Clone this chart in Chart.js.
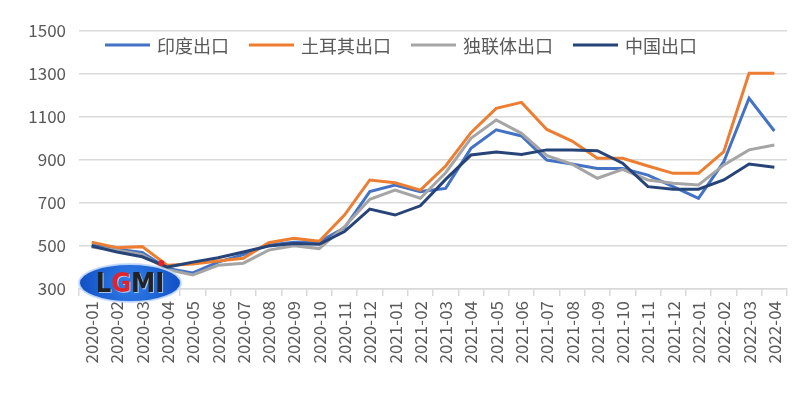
<!DOCTYPE html>
<html>
<head>
<meta charset="utf-8">
<script src="https://cdn.jsdelivr.net/npm/chart.js@4/dist/chart.umd.min.js"></script>
<style>
	html, body { margin: 0; padding: 0; background: #fff; }
	#wrap { width: 802px; height: 397px; }
</style>
</head>
<body>
<div id="wrap"><canvas id="exportChart" width="802" height="397"></canvas></div>
<script>
var months = ['2020-01', '2020-02', '2020-03', '2020-04', '2020-05', '2020-06', '2020-07', '2020-08', '2020-09', '2020-10', '2020-11', '2020-12',
	'2021-01', '2021-02', '2021-03', '2021-04', '2021-05', '2021-06', '2021-07', '2021-08', '2021-09', '2021-10', '2021-11', '2021-12',
	'2022-01', '2022-02', '2022-03', '2022-04'];
var india = [505, 485, 470, 395, 375, 425, 460, 505, 518, 520, 584, 753, 784, 753, 768, 954, 1040, 1012, 900, 881, 861, 861, 830, 776, 722, 892, 1187, 1035];
var turkey = [518, 492, 497, 410, 416, 430, 443, 515, 536, 522, 644, 807, 794, 760, 872, 1027, 1140, 1168, 1042, 988, 908, 908, 872, 838, 838, 939, 1303, 1303];
var cis = [495, 480, 460, 390, 365, 410, 420, 481, 501, 488, 590, 717, 760, 722, 841, 1001, 1086, 1024, 920, 881, 815, 857, 807, 792, 784, 877, 947, 970];
var china = [500, 472, 450, 402, 425, 445, 472, 500, 512, 508, 567, 672, 644, 687, 810, 923, 937, 926, 947, 947, 943, 885, 776, 764, 764, 807, 881, 866];
var seriesNames = ['印度出口', '土耳其出口', '独联体出口', '中国出口'];
var seriesColors = ['#4472C4', '#ED7D31', '#A5A5A5', '#264478'];
var yMin = 300, yMax = 1500, yStep = 200;

var textColor = '#595959';
var gridColor = '#d9d9d9';
var fontFamily = '"Noto Sans CJK SC", "Noto Sans", sans-serif';

// legend sits inside the plot, like Excel does it
var insideLegend = {
	id: 'insideLegend',
	afterDraw: function (chart) {
		var ctx = chart.ctx;
		var sets = chart.data.datasets;
		var boxW = 45, gap = 7, space = 20;
		ctx.save();
		ctx.font = '18px ' + fontFamily;
		var total = 0;
		sets.forEach(function (ds, i) {
			total += boxW + gap + ctx.measureText(ds.label).width + (i ? space : 0);
		});
		var x = (chart.width - total) / 2;
		var y = chart.chartArea.top + 14;
		ctx.textBaseline = 'middle';
		sets.forEach(function (ds) {
			ctx.strokeStyle = ds.borderColor;
			ctx.lineWidth = 3;
			ctx.beginPath();
			ctx.moveTo(x, y);
			ctx.lineTo(x + boxW, y);
			ctx.stroke();
			ctx.fillStyle = textColor;
			ctx.fillText(ds.label, x + boxW + gap, y + 1);
			x += boxW + gap + ctx.measureText(ds.label).width + space;
		});
		ctx.restore();
	}
};

// LGMI watermark in the lower left corner
var logo = {
	id: 'logo',
	afterDatasetsDraw: function (chart) {
		var ctx = chart.ctx;
		var cx = chart.chartArea.left + 51, cy = chart.chartArea.bottom - 6;
		ctx.save();
		ctx.beginPath();
		ctx.ellipse(cx, cy, 51, 19, 0, 0, Math.PI * 2);
		var g = ctx.createRadialGradient(cx, cy, 4, cx, cy, 52);
		g.addColorStop(0, '#2f7be6');
		g.addColorStop(1, '#0f4fc4');
		ctx.fillStyle = g;
		ctx.fill();
		ctx.lineWidth = 2;
		ctx.strokeStyle = 'rgba(200,220,255,0.9)';
		ctx.stroke();
		ctx.font = 'bold 27px "DejaVu Sans Condensed", "DejaVu Sans", sans-serif';
		ctx.textBaseline = 'middle';
		var parts = [['L', '#222'], ['G', '#e0242a'], ['M', '#222'], ['I', '#222']];
		var w = 0;
		parts.forEach(function (p) { w += ctx.measureText(p[0]).width; });
		var x = cx - w / 2;
		parts.forEach(function (p) {
			ctx.fillStyle = 'rgba(255,255,255,0.6)';
			ctx.fillText(p[0], x + 1, cy + 3);
			ctx.fillStyle = p[1];
			ctx.fillText(p[0], x, cy + 2);
			x += ctx.measureText(p[0]).width;
		});
		ctx.fillStyle = '#e0242a';
		ctx.beginPath();
		ctx.arc(x - 3, cy - 20, 3, 0, Math.PI * 2);
		ctx.fill();
		ctx.restore();
	}
};

function makeSet(i, values) {
	return {
		label: seriesNames[i],
		data: values,
		borderColor: seriesColors[i],
		backgroundColor: seriesColors[i],
		borderWidth: 3,
		pointRadius: 0,
		tension: 0,
		fill: false,
		order: 3 - i
	};
}

new Chart(document.getElementById('exportChart'), {
	type: 'line',
	data: {
		labels: months,
		datasets: [makeSet(0, india), makeSet(1, turkey), makeSet(2, cis), makeSet(3, china)]
	},
	options: {
		responsive: false,
		animation: false,
		devicePixelRatio: 1,
		layout: { padding: { top: 31, right: 15, left: 0, bottom: 0 } },
		plugins: {
			legend: { display: false },
			tooltip: { enabled: false }
		},
		scales: {
			x: {
				offset: true,
				grid: { offset: true, drawOnChartArea: false, drawTicks: true, tickLength: 7, color: gridColor, lineWidth: 1.5 },
				border: { color: gridColor, width: 1.5 },
				ticks: {
					color: textColor,
					font: { family: fontFamily, size: 17 },
					minRotation: 90,
					maxRotation: 90,
					autoSkip: false,
					padding: 5
				},
				afterFit: function (scale) { scale.height = 108; }
			},
			y: {
				min: yMin,
				max: yMax,
				ticks: {
					stepSize: yStep,
					color: textColor,
					font: { family: fontFamily, size: 17 },
					padding: 13,
					callback: function (v) { return String(v); }
				},
				grid: { color: gridColor, lineWidth: 1.5, drawTicks: false },
				border: { display: false },
				afterFit: function (scale) { scale.width = 79; }
			}
		}
	},
	plugins: [insideLegend, logo]
});
</script>
</body>
</html>
